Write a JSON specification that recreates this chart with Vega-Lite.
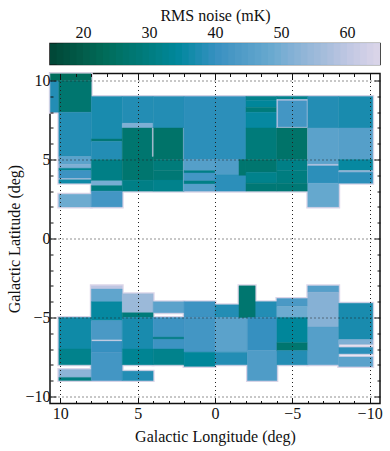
{"$schema":"https://vega.github.io/schema/vega-lite/v6.json","background":"white","padding":{"left":6,"top":6.5,"right":8,"bottom":0},"spacing":6,
"config":{"font":"Liberation Serif","view":{"stroke":"#111","strokeWidth":1.5},"axis":{"labelFont":"Liberation Serif","titleFont":"Liberation Serif","labelColor":"#111","titleColor":"#111","titleFontWeight":"normal","tickColor":"#111","domain":false}},
"datasets":{
"bar":[{"a":15,"b":65,"v":15.5},{"a":16,"b":65,"v":16.5},{"a":17,"b":65,"v":17.5},{"a":18,"b":65,"v":18.5},{"a":19,"b":65,"v":19.5},{"a":20,"b":65,"v":20.5},{"a":21,"b":65,"v":21.5},{"a":22,"b":65,"v":22.5},{"a":23,"b":65,"v":23.5},{"a":24,"b":65,"v":24.5},{"a":25,"b":65,"v":25.5},{"a":26,"b":65,"v":26.5},{"a":27,"b":65,"v":27.5},{"a":28,"b":65,"v":28.5},{"a":29,"b":65,"v":29.5},{"a":30,"b":65,"v":30.5},{"a":31,"b":65,"v":31.5},{"a":32,"b":65,"v":32.5},{"a":33,"b":65,"v":33.5},{"a":34,"b":65,"v":34.5},{"a":35,"b":65,"v":35.5},{"a":36,"b":65,"v":36.5},{"a":37,"b":65,"v":37.5},{"a":38,"b":65,"v":38.5},{"a":39,"b":65,"v":39.5},{"a":40,"b":65,"v":40.5},{"a":41,"b":65,"v":41.5},{"a":42,"b":65,"v":42.5},{"a":43,"b":65,"v":43.5},{"a":44,"b":65,"v":44.5},{"a":45,"b":65,"v":45.5},{"a":46,"b":65,"v":46.5},{"a":47,"b":65,"v":47.5},{"a":48,"b":65,"v":48.5},{"a":49,"b":65,"v":49.5},{"a":50,"b":65,"v":50.5},{"a":51,"b":65,"v":51.5},{"a":52,"b":65,"v":52.5},{"a":53,"b":65,"v":53.5},{"a":54,"b":65,"v":54.5},{"a":55,"b":65,"v":55.5},{"a":56,"b":65,"v":56.5},{"a":57,"b":65,"v":57.5},{"a":58,"b":65,"v":58.5},{"a":59,"b":65,"v":59.5},{"a":60,"b":65,"v":60.5},{"a":61,"b":65,"v":61.5},{"a":62,"b":65,"v":62.5},{"a":63,"b":65,"v":63.5},{"a":64,"b":65,"v":64.5}],
"foot":[{"l1":10.65,"l2":8,"b1":8,"b2":10.43},{"l1":10.1,"l2":8,"b1":3.5,"b2":8},{"l1":10.1,"l2":8,"b1":2,"b2":2.8},{"l1":8,"l2":6,"b1":2,"b2":9},{"l1":6,"l2":-6,"b1":3,"b2":9},{"l1":-6,"l2":-8,"b1":2,"b2":9},{"l1":-8,"l2":-10.2,"b1":3.5,"b2":9},{"l1":10.1,"l2":8,"b1":-8,"b2":-5},{"l1":10.1,"l2":8,"b1":-9,"b2":-8.3},{"l1":8,"l2":6,"b1":-6.4,"b2":-3},{"l1":8,"l2":6,"b1":-9,"b2":-6.5},{"l1":6,"l2":4,"b1":-8,"b2":-3.5},{"l1":6,"l2":4,"b1":-9,"b2":-8.4},{"l1":4,"l2":2,"b1":-4.7,"b2":-4},{"l1":4,"l2":2,"b1":-8,"b2":-5},{"l1":2,"l2":0,"b1":-8.1,"b2":-4},{"l1":0,"l2":-2.1,"b1":-8,"b2":-4.2},{"l1":-1.55,"l2":-2.6,"b1":-5,"b2":-3},{"l1":-2.1,"l2":-4,"b1":-9,"b2":-4},{"l1":-4,"l2":-6,"b1":-8,"b2":-3.8},{"l1":-6,"l2":-8,"b1":-8,"b2":-3},{"l1":-8,"l2":-10.2,"b1":-6.7,"b2":-4.1},{"l1":-8,"l2":-10.2,"b1":-7.3,"b2":-6.9},{"l1":-8,"l2":-10.2,"b1":-8.1,"b2":-7.5}],
"tiles":[
{"l1":10.65,"l2":10.1,"b1":8,"b2":10,"r":38},{"l1":10.65,"l2":8,"b1":10,"b2":10.43,"r":24},{"l1":10.1,"l2":8,"b1":8,"b2":10,"r":27},
{"l1":10.1,"l2":8,"b1":5.2,"b2":8,"r":38},{"l1":10.1,"l2":8,"b1":4.7,"b2":5.2,"r":46},{"l1":10.1,"l2":8,"b1":4.45,"b2":4.7,"r":51},{"l1":10.1,"l2":8,"b1":4.3,"b2":4.45,"r":33},{"l1":10.1,"l2":8,"b1":3.8,"b2":4.3,"r":41},{"l1":10.1,"l2":8,"b1":3.72,"b2":3.8,"r":56},{"l1":10.1,"l2":8,"b1":3.5,"b2":3.72,"r":36},{"l1":10.1,"l2":8,"b1":2,"b2":2.8,"r":49},
{"l1":8,"l2":6,"b1":6.3,"b2":9,"r":37},{"l1":8,"l2":6,"b1":6.15,"b2":6.3,"r":28},{"l1":8,"l2":6,"b1":5,"b2":6.15,"r":38},{"l1":8,"l2":6,"b1":3.65,"b2":5,"r":31},{"l1":8,"l2":6,"b1":3.35,"b2":3.65,"r":50},{"l1":8,"l2":6,"b1":3,"b2":3.35,"r":30},{"l1":8,"l2":6,"b1":2,"b2":3,"r":42},
{"l1":6,"l2":4,"b1":7.3,"b2":9,"r":38},{"l1":6,"l2":4,"b1":7,"b2":7.3,"r":51},{"l1":6,"l2":4,"b1":3.7,"b2":7,"r":27},{"l1":6,"l2":4,"b1":3,"b2":3.7,"r":31},
{"l1":4,"l2":2,"b1":7,"b2":9,"r":38},{"l1":4,"l2":2,"b1":5,"b2":7,"r":26},{"l1":4,"l2":2,"b1":4.3,"b2":5,"r":29},{"l1":4,"l2":2,"b1":3.7,"b2":4.3,"r":28},{"l1":4,"l2":2,"b1":3,"b2":3.7,"r":32},
{"l1":4.05,"l2":4,"b1":5.2,"b2":7,"r":62},{"l1":2.05,"l2":2,"b1":3,"b2":7,"r":52},
{"l1":2,"l2":0,"b1":5,"b2":9,"r":39},{"l1":2,"l2":0,"b1":4.3,"b2":5,"r":45},{"l1":2,"l2":0,"b1":4.15,"b2":4.3,"r":31},{"l1":2,"l2":0,"b1":3.65,"b2":4.15,"r":42},{"l1":2,"l2":0,"b1":3.45,"b2":3.65,"r":31},{"l1":2,"l2":0,"b1":3,"b2":3.45,"r":45},
{"l1":0,"l2":-2,"b1":5,"b2":9,"r":39},{"l1":0,"l2":-2,"b1":4.05,"b2":5,"r":44},{"l1":0,"l2":-2,"b1":3,"b2":4.05,"r":39},{"l1":-1.55,"l2":-2,"b1":4,"b2":5,"r":27},
{"l1":-2,"l2":-4,"b1":8.75,"b2":9,"r":32},{"l1":-2,"l2":-4,"b1":8.3,"b2":8.75,"r":34},{"l1":-2,"l2":-4,"b1":8,"b2":8.3,"r":29},{"l1":-2,"l2":-4,"b1":7,"b2":8,"r":35},{"l1":-2,"l2":-4,"b1":5,"b2":7,"r":29},{"l1":-2,"l2":-4,"b1":4.2,"b2":5,"r":27},{"l1":-2,"l2":-4,"b1":3.5,"b2":4.2,"r":32},{"l1":-2,"l2":-4,"b1":3,"b2":3.5,"r":28},
{"l1":-4,"l2":-6,"b1":8.8,"b2":9,"r":32},{"l1":-4,"l2":-6,"b1":7,"b2":8.8,"r":42},{"l1":-4,"l2":-6,"b1":7,"b2":7.05,"r":60},{"l1":-4,"l2":-6,"b1":8.75,"b2":8.8,"r":60},{"l1":-4,"l2":-4.05,"b1":7,"b2":8.8,"r":60},{"l1":-6,"l2":-5.95,"b1":7,"b2":8.8,"r":60},{"l1":-4,"l2":-6,"b1":5,"b2":7,"r":26},{"l1":-4,"l2":-6,"b1":4.3,"b2":5,"r":31},{"l1":-4,"l2":-6,"b1":3.5,"b2":4.3,"r":30},{"l1":-4,"l2":-6,"b1":3,"b2":3.5,"r":28},
{"l1":-6,"l2":-6.05,"b1":3.5,"b2":7,"r":62},
{"l1":-6,"l2":-8,"b1":7,"b2":9,"r":38},{"l1":-6,"l2":-8,"b1":4.7,"b2":7,"r":46},{"l1":-6,"l2":-8,"b1":4.6,"b2":4.7,"r":58},{"l1":-6,"l2":-8,"b1":3.5,"b2":4.6,"r":39},{"l1":-6,"l2":-8,"b1":2,"b2":3.5,"r":48},
{"l1":-8,"l2":-10.2,"b1":7,"b2":9,"r":37},{"l1":-8,"l2":-10.2,"b1":5,"b2":7,"r":45},{"l1":-8,"l2":-10.2,"b1":4.3,"b2":5,"r":35},{"l1":-8,"l2":-10.2,"b1":4.2,"b2":4.3,"r":55},{"l1":-8,"l2":-10.2,"b1":3.5,"b2":4.2,"r":39},
{"l1":10.1,"l2":8,"b1":-7,"b2":-5,"r":36},{"l1":10.1,"l2":8,"b1":-8,"b2":-7,"r":32},{"l1":10.1,"l2":8,"b1":-8.8,"b2":-8.3,"r":53},{"l1":10.1,"l2":8,"b1":-9,"b2":-8.8,"r":30},
{"l1":8,"l2":6,"b1":-3.2,"b2":-3,"r":60},{"l1":8,"l2":6,"b1":-4,"b2":-3.2,"r":47},{"l1":8,"l2":6,"b1":-5.2,"b2":-4,"r":35},{"l1":8,"l2":6,"b1":-6.4,"b2":-5.2,"r":43},{"l1":8,"l2":6,"b1":-7.2,"b2":-6.5,"r":40},{"l1":8,"l2":6,"b1":-9,"b2":-7.2,"r":42},
{"l1":6,"l2":4,"b1":-4.7,"b2":-3.5,"r":55},{"l1":6,"l2":4,"b1":-5,"b2":-4.7,"r":29},{"l1":6,"l2":4,"b1":-7,"b2":-5,"r":37},{"l1":6,"l2":4,"b1":-8,"b2":-7,"r":33},{"l1":6,"l2":4,"b1":-9,"b2":-8.4,"r":38},
{"l1":4,"l2":2,"b1":-4.7,"b2":-4,"r":46},{"l1":4,"l2":2,"b1":-7,"b2":-5,"r":41},{"l1":4,"l2":2,"b1":-6.35,"b2":-6.25,"r":30},{"l1":4,"l2":2,"b1":-8,"b2":-7,"r":32},
{"l1":2,"l2":0,"b1":-5,"b2":-4,"r":41},{"l1":2,"l2":0,"b1":-7.2,"b2":-5,"r":42},{"l1":2,"l2":0,"b1":-8.1,"b2":-7.2,"r":34},
{"l1":0,"l2":-2.1,"b1":-5,"b2":-4.2,"r":38},{"l1":0,"l2":-2.1,"b1":-7.2,"b2":-5,"r":46},{"l1":0,"l2":-2.1,"b1":-8,"b2":-7.2,"r":38},
{"l1":-2.1,"l2":-4,"b1":-5,"b2":-4,"r":38},{"l1":-1.55,"l2":-2.6,"b1":-5,"b2":-3,"r":27},{"l1":-2.1,"l2":-4,"b1":-7.1,"b2":-5,"r":40},{"l1":-2.1,"l2":-4,"b1":-9,"b2":-7.1,"r":44},
{"l1":-4,"l2":-6,"b1":-4.3,"b2":-3.8,"r":43},{"l1":-4,"l2":-6,"b1":-5,"b2":-4.3,"r":49},{"l1":-4,"l2":-6,"b1":-6.6,"b2":-5,"r":34},{"l1":-4,"l2":-6,"b1":-7.1,"b2":-6.6,"r":27},{"l1":-4,"l2":-6,"b1":-8,"b2":-7.1,"r":38},
{"l1":-6,"l2":-8,"b1":-3.4,"b2":-3,"r":45},{"l1":-6,"l2":-8,"b1":-5.6,"b2":-3.4,"r":52},{"l1":-6,"l2":-8,"b1":-8,"b2":-5.6,"r":45},
{"l1":-8,"l2":-10.2,"b1":-6.4,"b2":-4.1,"r":37},{"l1":-8,"l2":-10.2,"b1":-6.7,"b2":-6.4,"r":51},{"l1":-8,"l2":-10.2,"b1":-7.3,"b2":-6.9,"r":39},{"l1":-8,"l2":-10.2,"b1":-8.1,"b2":-7.5,"r":46}
]},
"vconcat":[
{"width":330,"height":21,"data":{"name":"bar"},"mark":{"type":"rect","strokeWidth":0},
"encoding":{"x":{"field":"a","type":"quantitative","scale":{"domain":[15,65],"nice":false},"axis":{"orient":"top","values":[20,30,40,50,60],"format":"d","title":"RMS noise (mK)","titleFontSize":16,"labelFontSize":16,"tickSize":-4,"labelPadding":7,"titlePadding":1,"grid":false,"labelFlush":false}},"x2":{"field":"b"},
"y":{"value":0},"y2":{"value":21},
"color":{"field":"v","type":"quantitative","legend":null,"scale":{"domain":[15,65],"range":["#014636","#016c59","#02818a","#3690c0","#67a9cf","#a6bddb","#dcd6e9"]}}}},
{"width":330,"height":330,"layer":[
{"data":{"name":"foot"},"mark":{"type":"rect","fill":"#dcd6e9","stroke":"#dcd6e9","strokeWidth":3},
"encoding":{"x":{"field":"l1","type":"quantitative","scale":{"domain":[10.67,-10.67],"nice":false,"zero":false},
"axis":{"orient":"bottom","zindex":1,"values":[-10,-9,-8,-7,-6,-5,-4,-3,-2,-1,0,1,2,3,4,5,6,7,8,9,10],"labelExpr":"datum.value % 5 === 0 ? datum.label : ''","labelFontSize":16,"labelPadding":8,"title":"Galactic Longitude (deg)","titleFontSize":16,"titlePadding":4,"tickSize":{"condition":{"test":"datum.value % 5 === 0","value":-6},"value":-3},"grid":true,"gridColor":"#222","gridDash":[1,3],"gridWidth":1,"gridOpacity":{"condition":{"test":"datum.value % 5 === 0","value":1},"value":0},"labelOverlap":false,"labelFlush":false}},"x2":{"field":"l2"},
"y":{"field":"b1","type":"quantitative","scale":{"domain":[-10.45,10.45],"nice":false,"zero":false},
"axis":{"orient":"left","zindex":1,"values":[-10,-9,-8,-7,-6,-5,-4,-3,-2,-1,0,1,2,3,4,5,6,7,8,9,10],"labelExpr":"datum.value % 5 === 0 ? datum.label : ''","labelFontSize":16,"labelPadding":6,"title":"Galactic Latitude (deg)","titleFontSize":16,"titlePadding":2,"tickSize":{"condition":{"test":"datum.value % 5 === 0","value":-6},"value":-3},"grid":true,"gridColor":"#222","gridDash":[1,3],"gridWidth":1,"gridOpacity":{"condition":{"test":"datum.value % 5 === 0","value":1},"value":0},"labelOverlap":false,"labelFlush":false}},"y2":{"field":"b2"}}},
{"data":{"name":"tiles"},"mark":{"type":"rect","strokeWidth":0.4},
"encoding":{"x":{"field":"l1","type":"quantitative","axis":{"orient":"top","zindex":1,"values":[-10,-9,-8,-7,-6,-5,-4,-3,-2,-1,0,1,2,3,4,5,6,7,8,9,10],"labels":false,"title":null,"grid":false,"tickSize":{"condition":{"test":"datum.value % 5 === 0","value":-6},"value":-3}}},"x2":{"field":"l2"},
"y":{"field":"b1","type":"quantitative","axis":{"orient":"right","zindex":1,"values":[-10,-9,-8,-7,-6,-5,-4,-3,-2,-1,0,1,2,3,4,5,6,7,8,9,10],"labels":false,"title":null,"grid":false,"tickSize":{"condition":{"test":"datum.value % 5 === 0","value":-6},"value":-3}}},"y2":{"field":"b2"},
"color":{"field":"r","type":"quantitative","legend":null,"scale":{"domain":[15,65],"range":["#014636","#016c59","#02818a","#3690c0","#67a9cf","#a6bddb","#dcd6e9"]}},
"stroke":{"field":"r","type":"quantitative","legend":null,"scale":{"domain":[15,65],"range":["#014636","#016c59","#02818a","#3690c0","#67a9cf","#a6bddb","#dcd6e9"]}}}}
],"resolve":{"axis":{"x":"independent","y":"independent"}}}
],"resolve":{"scale":{"color":"independent","stroke":"independent"}}}
